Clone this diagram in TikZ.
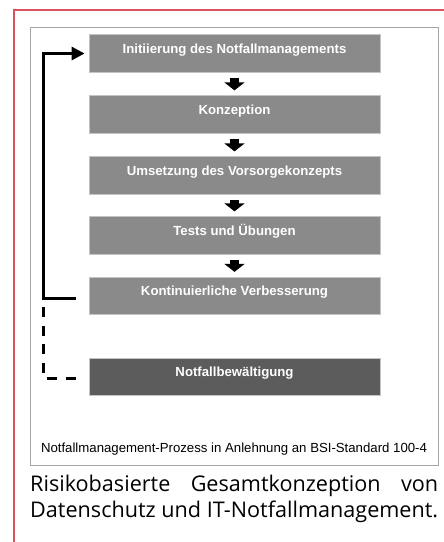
\documentclass[tikz,border=0pt]{standalone}
\usepackage{fontspec}
\setmainfont{Liberation Sans}
\newfontfamily\capfont{Open Sans}
\usetikzlibrary{arrows.meta}
\definecolor{boxgray}{HTML}{8A8A8A}
\definecolor{boxdark}{HTML}{5C5C5C}
\definecolor{boxedge}{HTML}{C4C4C4}
\definecolor{framegray}{HTML}{A6A6A6}
\definecolor{redline}{HTML}{D9505E}
\newlength\capw
\begin{document}
\settowidth\capw{\capfont\fontsize{10pt}{12pt}\selectfont Datenschutz und IT-Notfallmanagement.}%
\begin{tikzpicture}[x=1pt,y=-1pt,
  stepbox/.style={draw=boxedge, line width=0.8pt, fill=boxgray, minimum width=291pt, minimum height=37.5pt,
    inner sep=0pt, text=white, font=\fontsize{13.2pt}{15pt}\selectfont\bfseries,
    text height=9pt, text depth=10pt, align=center},
  darkbox/.style={stepbox, fill=boxdark},
  blockarrow/.style={line width=9.5pt, black, -{Triangle[width=20pt,length=8pt]}},
  fbline/.style={line width=3pt, black},
  fbarrow/.style={fbline, -{Triangle[width=13pt,length=13pt]}},
  fbdash/.style={fbline, dash pattern=on 10pt off 8.7pt}]
\useasboundingbox (0,0) rectangle (444,542);
\fill[white] (0,0) rectangle (444,542);
% red frame (top and left edges)
\draw[redline, line width=1.3pt] (444,10) -- (14,10) -- (14,542);
% inner frame
\draw[framegray, line width=1pt, fill=white] (30,27) rectangle (438,465);
% boxes
\node[stepbox] (b1) at (234.5,53.5) {Initiierung des Notfallmanagements};
\node[stepbox] (b2) at (234.5,114.5) {Konzeption};
\node[stepbox] (b3) at (234.5,175.5) {Umsetzung des Vorsorgekonzepts};
\node[stepbox] (b4) at (234.5,235.5) {Tests und Übungen};
\node[stepbox] (b5) at (234.5,296) {Kontinuierliche Verbesserung};
\node[darkbox] (b6) at (234.5,377) {Notfallbewältigung};
% block arrows
\foreach \a/\b in {b1/b2,b2/b3,b3/b4,b4/b5}
  \draw[blockarrow] ([yshift=-5pt]\a.south) -- ([yshift=5pt]\b.north);
% feedback loop
\coordinate (fbstart) at ([xshift=-13pt,yshift=-2pt]b5.west);
\coordinate (fbcorner) at (43,298);
\draw[fbarrow] (fbstart) -- (fbcorner) |- ([xshift=-4pt]b1.west);
\coordinate (dstart) at (43,307);
\draw[fbdash] (dstart) |- ([xshift=-11pt,yshift=-1pt]b6.west);
% inner caption
\node[anchor=base, inner sep=0pt, font=\fontsize{13.2pt}{15pt}\selectfont] (cap1) at (234,452.5)
  {Notfallmanagement-Prozess in Anlehnung an BSI-Standard 100-4};
% outer caption
\pgfmathsetmacro\capsize{4080/\capw}
\pgfmathsetmacro\capskip{1.2*\capsize}
\tikzset{captext/.style={anchor=base west, inner sep=0pt, font=\capfont\fontsize{\capsize pt}{\capskip pt}\selectfont}}
\node[captext] (cap2) at (30,491)
  {\makebox[408pt][s]{Risikobasierte Gesamtkonzeption von}};
\node[captext] (cap3) at (30,517)
  {\makebox[408pt][s]{Datenschutz und IT-Notfallmanagement.}};
\end{tikzpicture}
\end{document}
